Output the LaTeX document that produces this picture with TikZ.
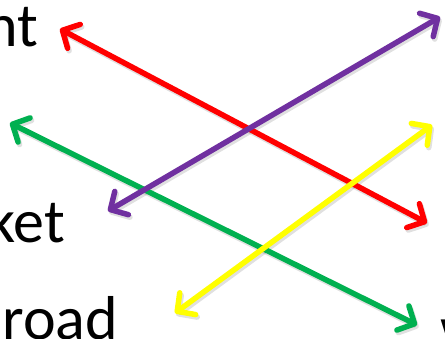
\documentclass[tikz,border=0pt]{standalone}
\usepackage{fontspec}
\setmainfont{Carlito}
\usetikzlibrary{arrows.meta}
\definecolor{pptred}{RGB}{255,0,0}
\definecolor{pptpurple}{RGB}{112,48,160}
\definecolor{pptgreen}{RGB}{0,176,80}
\definecolor{pptyellow}{RGB}{255,255,0}
\tikzset{
  word/.style={inner sep=0pt, outer sep=0pt, font=\fontsize{62}{62}\selectfont, text=black},
  dbl/.style={line width=5.5pt, line cap=round, line join=round,
    {Straight Barb[length=13pt,width=27pt,line width=5.5pt,round]}-{Straight Barb[length=13pt,width=27pt,line width=5.5pt,round]}},
  shade/.style={dbl, draw=black, opacity=0.12, transform canvas={shift={(1.5pt,-2.5pt)}}}
}
\begin{document}
\begin{tikzpicture}[x=1pt,y=-1pt]
\useasboundingbox (0,0) rectangle (445,339);
% text labels
\node[word, anchor=base east] (t1) at (38,47) {nt};
\node[word, anchor=base east] (t2) at (65,243) {ket};
\node[word, anchor=base east] (t3) at (118,340) {road};
\node[word, anchor=base west] (t4) at (440,350) {w};
% arrow endpoints
\coordinate (r1) at (60,29);
\coordinate (r2) at (427,223);
\coordinate (p1) at (440,17);
\coordinate (p2) at (108,211);
\coordinate (g1) at (10,123);
\coordinate (g2) at (417,325);
\coordinate (y1) at (432,125);
\coordinate (y2) at (175,313);
% shadows
\draw[shade] (r1) -- (r2);
\draw[shade] (p1) -- (p2);
\draw[shade] (g1) -- (g2);
\draw[shade] (y1) -- (y2);
% arrows
\draw[dbl, draw=pptred] (r1) -- (r2);
\draw[dbl, draw=pptgreen] (g1) -- (g2);
\draw[dbl, draw=pptpurple] (p1) -- (p2);
\draw[dbl, draw=pptyellow] (y1) -- (y2);
\end{tikzpicture}
\end{document}
